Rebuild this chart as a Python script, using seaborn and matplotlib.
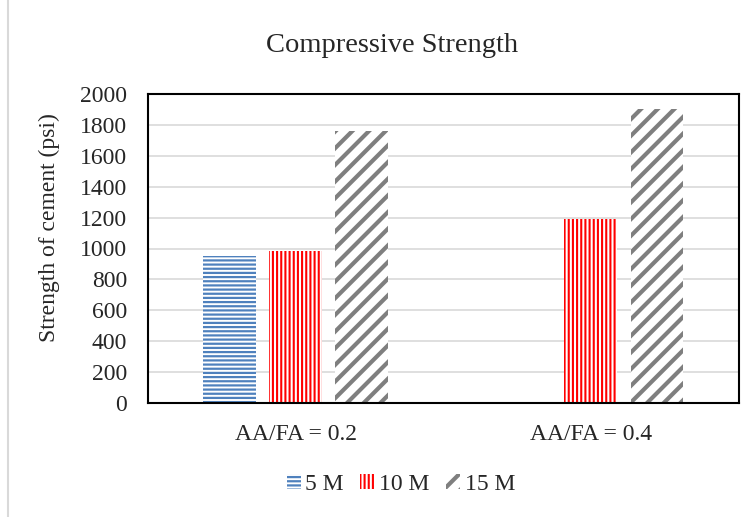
import numpy as np
import pandas as pd
import matplotlib
matplotlib.use("Agg")
import matplotlib.pyplot as plt
from matplotlib.patches import Patch
from matplotlib.lines import Line2D
from matplotlib.legend_handler import HandlerPatch
import seaborn as sns

# Compressive strength of cement (psi) by activator ratio and NaOH molarity
ratios = ["AA/FA = 0.2", "AA/FA = 0.4"]
molarities = ["5 M", "10 M", "15 M"]
strength_5m = [950, 0]
strength_10m = [985, 1190]
strength_15m = [1760, 1900]
y_ticks = [0, 200, 400, 600, 800, 1000, 1200, 1400, 1600, 1800, 2000]

colors = {"5 M": "#4F81BD", "10 M": "#FF0000", "15 M": "#7F7F7F"}
hatches = {"5 M": "----", "10 M": "||||", "15 M": "//"}
hatch_lw = {"5 M": 1.6, "10 M": 1.5, "15 M": 3.0}

df = pd.DataFrame({
    "ratio": ratios * 3,
    "molarity": [m for m in molarities for _ in ratios],
    "strength": strength_5m + strength_10m + strength_15m,
})

sns.set_theme(style="white")
plt.rcParams["font.family"] = ["Liberation Serif", "DejaVu Serif"]

fig = plt.figure(figsize=(7.54, 5.17), dpi=100)
ax = fig.add_axes([148 / 754, 1 - 403 / 517, (738.5 - 148) / 754, (403 - 94) / 517])

sns.barplot(data=df, x="ratio", y="strength", hue="molarity",
            order=ratios, hue_order=molarities, palette=colors,
            width=0.672, gap=0.2, errorbar=None, legend=False, ax=ax)


def style_patch(p, m):
    p.set_facecolor("white")
    p.set_edgecolor(colors[m])
    p.set_linewidth(0)
    p.set_hatch(hatches[m])
    if hasattr(p, "set_hatch_linewidth"):
        p.set_hatch_linewidth(hatch_lw[m])


for cont, m in zip(ax.containers, molarities):
    for p in cont:
        style_patch(p, m)

ax.set_ylim(0, 2000)
ax.set_xlim(-0.5, 1.5)
ax.set_yticks(y_ticks)
ax.set_yticklabels([str(v) for v in y_ticks])
ax.yaxis.grid(True, color="#D9D9D9", linewidth=1.2)
ax.set_axisbelow(True)
for s in ax.spines.values():
    s.set_visible(True)
    s.set_color("black")
    s.set_linewidth(1.5)
ax.tick_params(axis="y", length=0, pad=15, labelsize=17)
ax.tick_params(axis="x", length=0, pad=15, labelsize=17)
ax.set_xlabel("")
ax.set_ylabel("Strength of cement (psi)", fontsize=17)
ax.yaxis.set_label_coords(-(148 - 60) / (738.5 - 148), (403 - 228) / (403 - 94))

fig.text(391.7 / 754, 1 - 45 / 517, "Compressive Strength",
         ha="center", va="center", fontsize=20.5)


def copy_hatch(legend_handle, orig_handle):
    legend_handle.update_from(orig_handle)
    if hasattr(legend_handle, "set_hatch_linewidth"):
        legend_handle.set_hatch_linewidth(orig_handle.get_hatch_linewidth())


handles = []
for m in molarities:
    h = Patch(facecolor="white", edgecolor=colors[m], linewidth=0, hatch=hatches[m], label=m)
    if hasattr(h, "set_hatch_linewidth"):
        h.set_hatch_linewidth(hatch_lw[m])
    handles.append(h)
fig.legend(handles=handles, loc="center", bbox_to_anchor=(401 / 754, 1 - 484 / 517),
           ncol=3, frameon=False, fontsize=17, handlelength=0.6, handleheight=0.6,
           handletextpad=0.2, columnspacing=0.7, borderpad=0,
           handler_map={Patch: HandlerPatch(update_func=copy_hatch)})

# chart area border
fig.add_artist(Line2D([7.5 / 754, 7.5 / 754], [0, 1], transform=fig.transFigure,
                      color="#D9D9D9", linewidth=1.5))

fig.savefig("out.png", dpi=100)
